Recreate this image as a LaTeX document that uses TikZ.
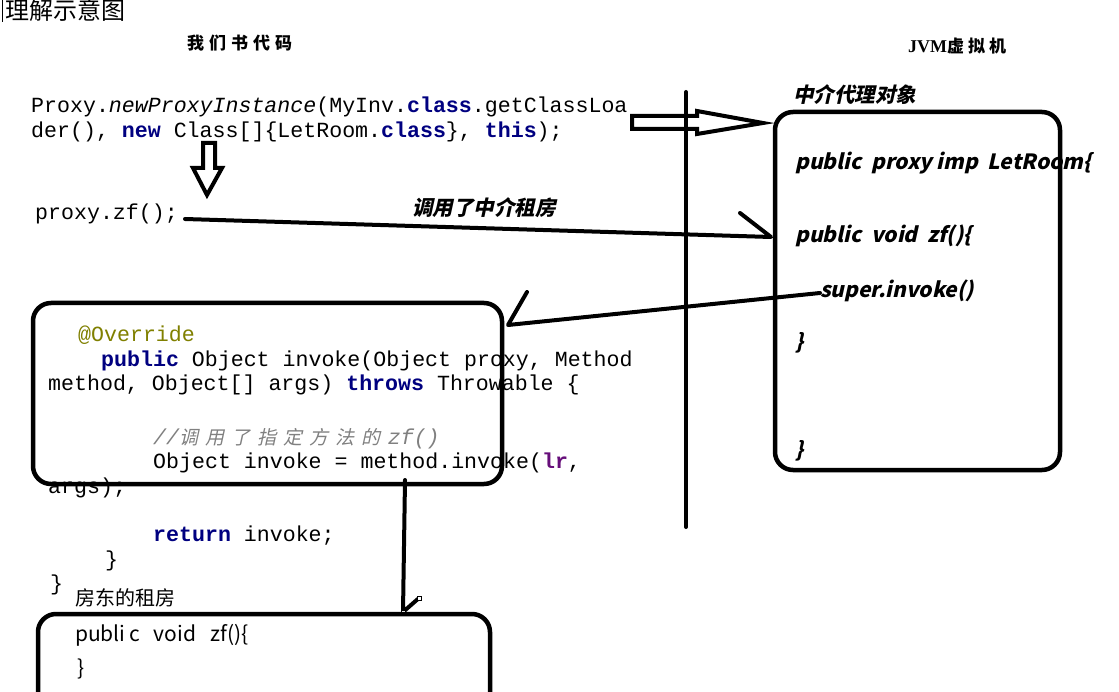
\documentclass[tikz,border=0pt]{standalone}
\usepackage{fontspec}
\setmainfont{Noto Sans}
\newfontfamily\codefont{Liberation Mono}
\newfontfamily\cjk{Noto Sans CJK SC}[AutoFakeSlant=0.2]
\newfontfamily\cjksl{Noto Sans CJK SC}[FakeSlant=0.22]
\newfontfamily\serf{Liberation Serif}
\definecolor{kwblue}{HTML}{000080}
\definecolor{annot}{HTML}{808000}
\definecolor{cmt}{HTML}{808080}
\definecolor{lrpurple}{HTML}{660E7A}
\newcommand\jkw[1]{\textcolor{kwblue}{\textbf{#1}}}
\newcommand\cbox[2]{\makebox[#1][l]{#2}}
\tikzset{
  codetxt/.style={anchor=base west, inner sep=0pt, font=\codefont\fontsize{21.6pt}{24pt}\selectfont},
  boxtxt/.style={anchor=base west, inner sep=0pt, font=\cjksl\bfseries\fontsize{21pt}{24pt}\selectfont},
  cjkbi/.style={anchor=base west, inner sep=0pt, font=\cjksl\bfseries\fontsize{20.5pt}{22pt}\selectfont},
  cjkreg/.style={anchor=base west, inner sep=0pt, font=\cjk\fontsize{20pt}{22pt}\selectfont},
  plain/.style={anchor=base west, inner sep=0pt, font=\cjk\fontsize{21pt}{24pt}\selectfont},
  heavy/.style={line width=4pt, line cap=round, line join=round},
  frame/.style={draw, line width=4.5pt, rounded corners=18pt, inner sep=0pt},
}
\begin{document}
\begin{tikzpicture}[x=1pt,y=-1pt]
\useasboundingbox[fill=white] (0,0) rectangle (1119,692);

% titles
\draw[line width=0.8pt] (2,0) -- (2,22);
\node[cjkreg, font=\cjk\fontsize{24pt}{24pt}\selectfont] (title) at (5,20) {理解示意图};
\node[cjkreg, font=\cjk\bfseries\fontsize{17pt}{20pt}\selectfont] (ours) at (187,50)
  {\cbox{22pt}{我}\cbox{22pt}{们}\cbox{22pt}{书}\cbox{22pt}{代}\cbox{22pt}{码}};
\node[cjkreg, font=\cjk\bfseries\fontsize{17pt}{20pt}\selectfont] (jvmt) at (908,53)
  {{\serf\bfseries\fontsize{18pt}{20pt}\selectfont JVM}\cbox{21pt}{虚}\cbox{21pt}{拟}\cbox{21pt}{机}};

% top code
\node[codetxt] (c1) at (31,113) {Proxy.\textit{newProxyInstance}(MyInv.\jkw{class}.getClassLoa};
\node[codetxt] (c2) at (31,138) {der(), \jkw{new} Class[]\{LetRoom.\jkw{class}\}, \jkw{this});};
\node[codetxt] (zf) at (35,220) {proxy.zf();};

% divider
\coordinate (dtop) at (686,92);
\coordinate (dbot) at (686,527);
\draw[heavy] (dtop) -- (dbot);

% hollow arrows
\draw[heavy, line join=miter] (632,116) -- (697,116) -- (697,111) -- (763,123) -- (697,134) -- (697,129) -- (632,129) -- cycle;
\draw[heavy, line join=miter] (203,143) -- (215,143) -- (215,168) -- (222,168) -- (207,195) -- (193,168) -- (203,168) -- cycle;

% right box
\node[frame, minimum width=285pt, minimum height=358pt] (jvm) at (917.5,291) {};
\node[cjkbi] (agent) at (793,103) {中介代理对象};
\node[boxtxt] (r1) at (795,170) {public\ \ proxy imp\ \ LetRoom\{};
\node[boxtxt] (r2) at (795,243) {public\ \ void\ \ zf()\{};
\node[boxtxt] (r3) at (820,298) {super.invoke()};
\node[boxtxt] (r4) at (795,350) {\}};
\node[boxtxt] (r5) at (795,457) {\}};

% connector proxy.zf -> right box
\coordinate (zfs) at (185,219);
\coordinate (zfe) at (771,237);
\coordinate (zfb) at (740,213);
\draw[heavy] (zfs) -- (zfe) -- (zfb);
\node[cjkbi] (rent) at (412,216) {调用了中介租房};

% middle code
\node[codetxt, text=annot] (m1) at (78,342) {@Override};
\node[codetxt] (m2) at (101,367) {\jkw{public} Object invoke(Object proxy, Method};
\node[codetxt] (m3) at (48,391) {method, Object[] args) \jkw{throws} Throwable \{};
\node[codetxt, text=cmt] (m4) at (153,444) {\textit{//}{\cjksl\fontsize{19pt}{22pt}\selectfont\cbox{26pt}{调}\cbox{26pt}{用}\cbox{26pt}{了}\cbox{26pt}{指}\cbox{26pt}{定}\cbox{26pt}{方}\cbox{26pt}{法}\cbox{26pt}{的}}\textit{zf()}};
\node[codetxt] (m5) at (153,468) {Object invoke = method.invoke(\textcolor{lrpurple}{\textbf{lr}},};
\node[codetxt] (m6) at (48,493) {args);};
\node[codetxt] (m7) at (153,541) {\jkw{return} invoke;};
\node[codetxt] (m8) at (105,566) {\}};
\node[codetxt] (m9) at (50,590) {\}};
\node[frame, minimum width=469pt, minimum height=181pt] (mid) at (267.5,393.5) {};

% connector super.invoke -> middle box
\coordinate (sis) at (820,293);
\coordinate (sie) at (508,325);
\coordinate (sib) at (527,292);
\draw[heavy] (sis) -- (sie) -- (sib);

% connector middle -> bottom
\coordinate (ds) at (405,480);
\coordinate (de) at (403,612);
\coordinate (db) at (419,598);
\draw[heavy] (ds) -- (de) -- (db);
\draw[line width=0.6pt, fill=white] (401,610) rectangle (405,614);
\draw[line width=0.6pt, fill=white] (417,596) rectangle (421,600);

% bottom box
\node[cjkreg] (landlord) at (75,605) {房东的租房};
\draw[line width=4.5pt, rounded corners=18pt] (38,700) -- (38,614) -- (490,614) -- (490,700);
\node[plain] (b1) at (75,641) {publi\,c\ \ \ void\ \ \ zf()\{};
\node[plain] (b2) at (77,675) {\}};
\end{tikzpicture}
\end{document}
